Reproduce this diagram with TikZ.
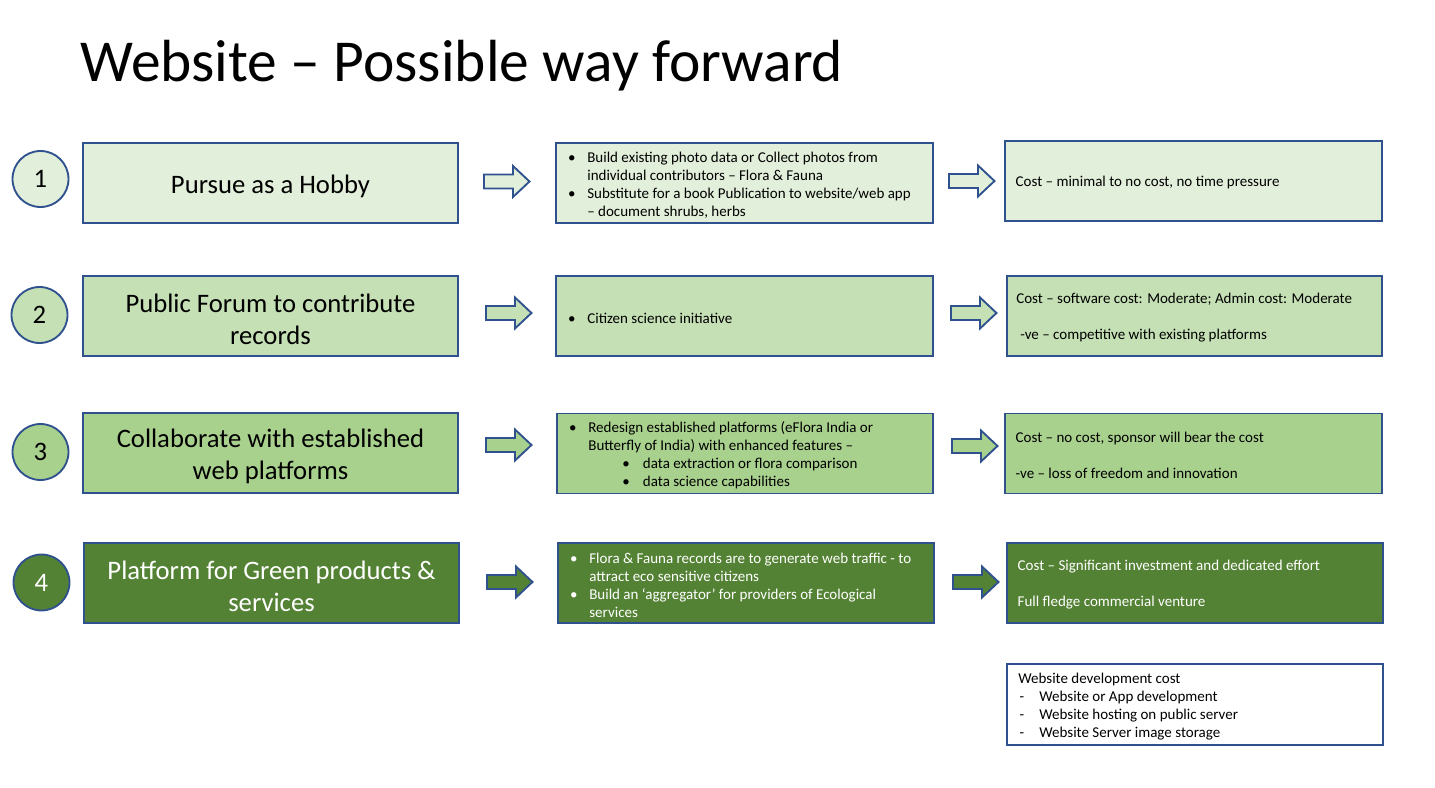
\documentclass[tikz,border=0pt]{standalone}
\usepackage{fontspec}
\setmainfont{Carlito}
\definecolor{edge}{HTML}{2F528F}
\definecolor{gA}{HTML}{E2EFDA}
\definecolor{gB}{HTML}{C5E0B4}
\definecolor{gC}{HTML}{A9D18E}
\definecolor{gD}{HTML}{548235}
% bullet, indented sub-bullet and dash markers for the lists
\newcommand\bul{\makebox[14.5pt][l]{•}}
\newcommand\subbul{\hspace*{40pt}\makebox[15.5pt][l]{•}}
\newcommand\dsh{\makebox[15.75pt][l]{\hspace*{1pt}-}}
\begin{document}
\begin{tikzpicture}[x=0.75pt,y=-0.75pt,
  box/.style={draw=edge, line width=1.4pt, inner sep=0pt, minimum height=60pt},
  num/.style={circle, draw=edge, line width=1.4pt, inner sep=0pt, minimum size=42pt,
    font=\fontsize{20}{24}\selectfont},
  head/.style={font=\fontsize{20}{23.5}\selectfont, align=center, inner sep=0pt, yshift=-2.5pt},
  body/.style={font=\fontsize{11.25}{13.5}\selectfont, align=left, inner sep=0pt, anchor=west, yshift=-1.5pt},
  pics/barrow/.style={code={
    \draw[draw=edge, line width=1.4pt, fill=#1]
      (0,-7) -- (29,-7) -- (29,-15.5) -- (45.5,0) -- (29,15.5) -- (29,7) -- (0,7) -- cycle;}}
]
\useasboundingbox (0,0) rectangle (1435,788);

% title
\node[anchor=base west, inner sep=0pt, font=\fontsize{44.6}{53}\selectfont] (title) at (80,82)
  {Website – Possible way forward};

% numbered circles
\node[num, fill=gA] (c1) at (40.5,179) {1};
\node[num, fill=gB] (c2) at (39.5,315) {2};
\node[num, fill=gC] (c3) at (40.5,452) {3};
\node[num, fill=gD, text=white] (c4) at (41.5,582.5) {4};

% option boxes
\node[box, fill=gA, minimum width=281.25pt] (l1) at (270.5,183) {};
\node[box, fill=gB, minimum width=281.25pt] (l2) at (270.5,316) {};
\node[box, fill=gC, minimum width=281.25pt] (l3) at (270.5,453) {};
\node[box, fill=gD, minimum width=281.25pt] (l4) at (271.5,583) {};
\node[head] (l1t) at (l1) {Pursue as a Hobby};
\node[head] (l2t) at (l2) {Public Forum to contribute\\records};
\node[head] (l3t) at (l3) {Collaborate with established\\web platforms};
\node[head, text=white] (l4t) at (l4) {Platform for Green products \&\\services};

% description boxes
\node[box, fill=gA, minimum width=282.75pt] (m1) at (744.5,183) {};
\node[box, fill=gB, minimum width=282.75pt] (m2) at (744.5,316) {};
\node[box, fill=gC, minimum width=282pt] (m3) at (745,453.5) {};
\node[box, fill=gD, minimum width=282pt] (m4) at (746,583) {};
\node[body] (m1t) at ([xshift=9.5pt]m1.west)
  {\bul Build existing photo data or Collect photos from\\
   \hspace*{14.5pt}individual contributors – Flora \& Fauna\\
   \bul Substitute for a book Publication to website/web app\\
   \hspace*{14.5pt}– document shrubs, herbs};
\node[body] (m2t) at ([xshift=9.5pt]m2.west) {\bul Citizen science initiative};
\node[body] (m3t) at ([xshift=9.5pt]m3.west)
  {\bul Redesign established platforms (eFlora India or\\
   \hspace*{14.5pt}Butterfly of India) with enhanced features –\\
   \subbul data extraction or flora comparison\\
   \subbul data science capabilities};
\node[body, text=white] (m4t) at ([xshift=9.5pt]m4.west)
  {\bul Flora \& Fauna records are to generate web traffic - to\\
   \hspace*{14.5pt}attract eco sensitive citizens\\
   \bul Build an ‘aggregator’ for providers of Ecological\\
   \hspace*{14.5pt}services};

% cost boxes
\node[box, fill=gA, minimum width=282.75pt] (r1) at (1193.5,181) {};
\node[box, fill=gB, minimum width=281.25pt] (r2) at (1194.5,316) {};
\node[box, fill=gC, minimum width=282.75pt] (r3) at (1193.5,453.5) {};
\node[box, fill=gD, minimum width=282pt] (r4) at (1195,583) {};
\node[body] (r1t) at ([xshift=8.5pt]r1.west) {Cost – minimal to no cost, no time pressure};
\node[body] (r2t) at ([xshift=7.5pt]r2.west)
  {Cost – software cost: Moderate; Admin cost: Moderate\\[13.5pt]
   \hspace*{3pt}-ve – competitive with existing platforms};
\node[body] (r3t) at ([xshift=8.5pt]r3.west)
  {Cost – no cost, sponsor will bear the cost\\[13.5pt]
   -ve – loss of freedom and innovation};
\node[body, text=white] (r4t) at ([xshift=8.5pt]r4.west)
  {Cost – Significant investment and dedicated effort\\[13.5pt]
   Full fledge commercial venture};

% development cost note
\node[box, fill=white, minimum width=282pt, minimum height=60.75pt] (dev) at (1195,704.5) {};
\node[body] (devt) at ([xshift=9pt]dev.west)
  {Website development cost\\
   \dsh Website or App development\\
   \dsh Website hosting on public server\\
   \dsh Website Server image storage};

% block arrows between the columns
\pic at (484,181.5) {barrow=gA};
\pic at (949,181) {barrow=gA};
\pic at (486,313) {barrow=gB};
\pic at (951,313) {barrow=gB};
\pic at (486,445) {barrow=gC};
\pic at (952,446) {barrow=gC};
\pic at (487,582) {barrow=gD};
\pic at (953,582) {barrow=gD};
\end{tikzpicture}
\end{document}
